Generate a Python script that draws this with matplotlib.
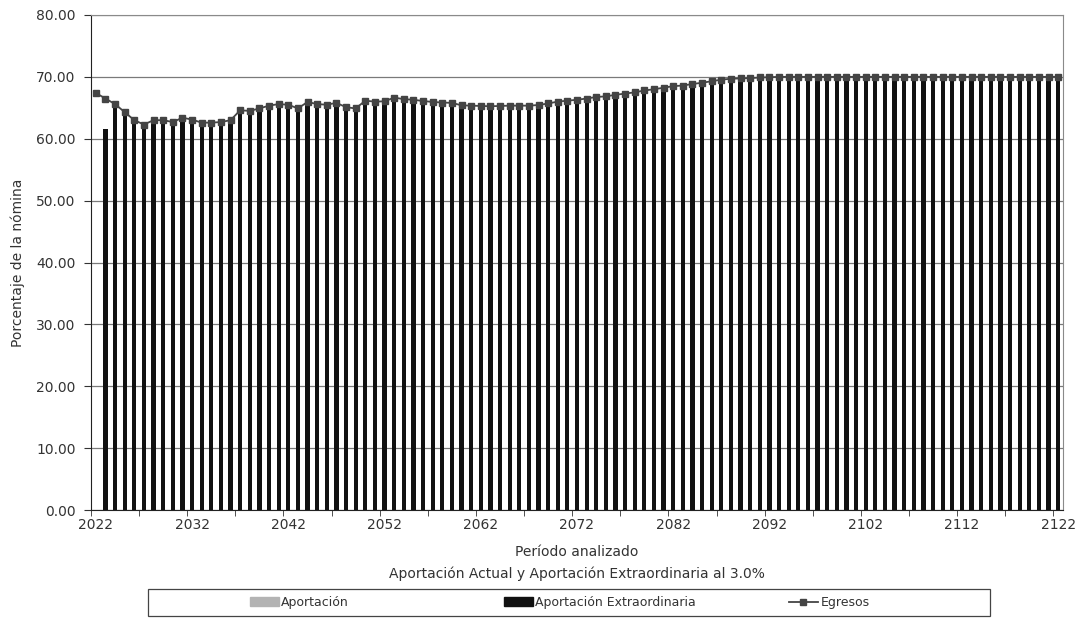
import numpy as np
import matplotlib
matplotlib.use("Agg")
import matplotlib.pyplot as plt
from matplotlib.patches import Rectangle
from matplotlib.lines import Line2D
from matplotlib.ticker import MultipleLocator, FormatStrFormatter

plt.rcParams['font.family'] = ['DejaVu Sans']

# Data (percent of payroll)
years = list(range(2022, 2123))

egresos = [
    67.4, 66.5, 65.6, 64.3, 63.0, 62.3, 63.0, 63.0, 62.7, 63.4,   # 2022-2031
    63.1, 62.6, 62.6, 62.7, 63.0, 64.6, 64.5, 64.9, 65.35, 65.6,  # 2032-2041
    65.5, 64.9, 65.95, 65.6, 65.5, 65.8, 65.1, 64.9, 66.15, 66.0,  # 2042-2051
    66.05, 66.65, 66.4, 66.3, 66.1, 65.95, 65.85, 65.8, 65.4, 65.35,  # 2052-2061
    65.3, 65.25, 65.3, 65.35, 65.35, 65.35, 65.45, 65.7, 66.0, 66.15,  # 2062-2071
    66.3, 66.5, 66.75, 66.85, 67.1, 67.3, 67.5, 67.8, 68.0, 68.25,  # 2072-2081
    68.5, 68.6, 68.85, 69.05, 69.3, 69.55, 69.7, 69.75, 69.8, 69.9,  # 2082-2091
    69.95, 70.0, 70.0, 70.0, 70.0, 70.0, 70.0, 70.0, 70.0, 70.0,  # 2092-2101
    70.0, 70.0, 70.0, 70.0, 70.0, 70.0, 70.0, 70.0, 70.0, 70.0,  # 2102-2111
    70.0, 70.0, 70.0, 70.0, 70.0, 70.0, 70.0, 70.0, 70.0, 70.0,  # 2112-2121
    70.0,  # 2122
]

# gray part is not visible anywhere -> zero
aportacion = np.zeros(len(years))
# black bars: none in 2022, 61.5 in 2023, then up to the Egresos line
aportacion_extra = [0.0, 61.5] + egresos[2:]

text_col = '#333333'

fig = plt.figure(figsize=(10.76, 6.33), dpi=100)
ax = fig.add_axes([91 / 1076, 1 - 510 / 633, (1063 - 91) / 1076, (510 - 15) / 633])

x = np.arange(len(years))
ax.bar(x, aportacion, width=0.44, color='#b3b3b3', zorder=2)
ax.bar(x, aportacion_extra, width=0.44, bottom=aportacion, color='#111111', zorder=2)
ax.plot(x, egresos, color='#444444', lw=1.3, marker='s', markersize=4,
        markerfacecolor='#444444', markeredgecolor='#444444', zorder=3)

ax.set_xlim(-0.5, len(years) - 0.5)
ax.set_ylim(0, 80)

ax.yaxis.set_major_locator(MultipleLocator(10))
ax.yaxis.set_major_formatter(FormatStrFormatter('%.2f'))
ax.grid(axis='y', color='#7a7a7a', lw=0.9, zorder=0)
ax.set_axisbelow(True)

ax.set_xticks(x[::10])
ax.set_xticklabels([str(y) for y in years[::10]])
ax.set_xticks(np.arange(-0.5, len(years), 5), minor=True)
ax.tick_params(axis='x', which='major', length=0, pad=6, labelsize=10, labelcolor=text_col)
ax.tick_params(axis='x', which='minor', length=4, direction='out', color='#333333')
ax.tick_params(axis='y', length=5, direction='out', labelsize=10, labelcolor=text_col,
               color='#333333', pad=6)

for s in ['left', 'bottom']:
    ax.spines[s].set_color('#222222')
for s in ['top', 'right']:
    ax.spines[s].set_color('#8a8a8a')

ax.set_ylabel('Porcentaje de la nómina', fontsize=10, color=text_col, labelpad=8)

fig.text(577 / 1076, 1 - 552 / 633, 'Período analizado', ha='center', va='center',
         fontsize=10, color=text_col)
fig.text(577 / 1076, 1 - 574 / 633, 'Aportación Actual y Aportación Extraordinaria al 3.0%',
         ha='center', va='center', fontsize=10, color=text_col)

# legend box
fig.patches.append(Rectangle((148 / 1076, 1 - 616 / 633), (990 - 148) / 1076, 27 / 633,
                             transform=fig.transFigure, fill=False, ec='#444444', lw=0.9))

# one legend per entry so each sits where it is in the original
leg_items = [
    (Rectangle((0, 0), 1, 1, color='#b3b3b3'), 'Aportación', 250),
    (Rectangle((0, 0), 1, 1, color='#111111'), 'Aportación Extraordinaria', 504),
    (Line2D([], [], color='#444444', lw=1.3, marker='s', markersize=4), 'Egresos', 789),
]
for handle, label, xpos in leg_items:
    fig.legend([handle], [label], loc='center left',
               bbox_to_anchor=(xpos / 1076, 1 - 602.5 / 633),
               frameon=False, fontsize=9, handlelength=2.3, handletextpad=0.2,
               borderpad=0, borderaxespad=0, labelcolor=text_col)

fig.savefig('out.png', dpi=100)
